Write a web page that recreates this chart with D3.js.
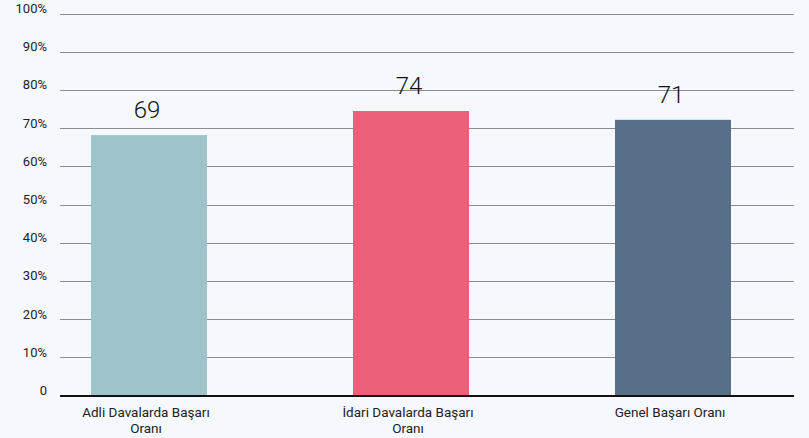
<!DOCTYPE html>
<html>
<head>
<meta charset="utf-8">
<script src="https://cdn.jsdelivr.net/npm/d3@7"></script>
<style>
  body { margin: 0; background: #f5f9fd; }
  svg { display: block; }
</style>
</head>
<body>
<svg id="chart" width="809" height="438"></svg>
<script>
// Categories (two-line labels)
var categories = ["Adli Davalarda Başarı Oranı", "İdari Davalarda Başarı Oranı", "Genel Başarı Oranı"];
var categoryLines = [["Adli Davalarda Başarı", "Oranı"], ["İdari Davalarda Başarı", "Oranı"], ["Genel Başarı Oranı"]];
// Bar heights as drawn (percent)
var values = [68.3, 74.6, 72.3];
// Printed value labels
var valueLabels = ["69", "74", "71"];
var colors = ["#9fc3cb", "#eb5f79", "#587087"];
// Y ticks
var yTicks = [0, 10, 20, 30, 40, 50, 60, 70, 80, 90, 100];

var svg = d3.select("#chart");
var W = 809, H = 438;
var m = { left: 60, right: 15, top: 14, bottom: 42 };

// Scales
var y = d3.scaleLinear().domain([0, 100]).range([H - m.bottom, m.top]);
var x = d3.scaleBand().domain(categories).range([18, 804]).padding(0);
var barW = 116;

// Background
svg.append("rect")
  .attr("width", W)
  .attr("height", H)
  .style("fill", "#f5f9fd");

// Grid lines
var grid = svg.append("g").attr("class", "grid");
grid.selectAll("line")
  .data(yTicks.filter(function(d) { return d > 0; }))
  .enter().append("line")
    .attr("x1", m.left)
    .attr("x2", W - m.right)
    .attr("y1", function(d) { return y(d); })
    .attr("y2", function(d) { return y(d); })
    .style("stroke", "#8c8c8c")
    .style("stroke-width", 1)
    .attr("shape-rendering", "crispEdges");

// Y tick labels
svg.append("g").selectAll("text")
  .data(yTicks)
  .enter().append("text")
    .attr("x", 47)
    .attr("y", function(d) { return y(d); })
    .attr("dy", -1)
    .style("text-anchor", "end")
    .style("font-family", "Roboto, sans-serif")
    .style("font-size", "13px")
    .style("fill", "#222")
    .text(function(d) { return d === 0 ? "0" : d + "%"; });

// Bars
svg.append("g").selectAll("rect")
  .data(values)
  .enter().append("rect")
    .attr("x", function(d, i) { return x(categories[i]) + x.bandwidth() / 2 - barW / 2; })
    .attr("y", function(d) { return y(d); })
    .attr("width", barW)
    .attr("height", function(d) { return y(0) - y(d); })
    .style("fill", function(d, i) { return colors[i]; });

// Value labels
svg.append("g").selectAll("text")
  .data(values)
  .enter().append("text")
    .attr("x", function(d, i) { return x(categories[i]) + x.bandwidth() / 2 - 2; })
    .attr("y", function(d) { return y(d) - 17; })
    .style("text-anchor", "middle")
    .style("font-family", "Roboto, sans-serif")
    .style("font-weight", 300)
    .style("font-size", "24px")
    .style("fill", "#111")
    .text(function(d, i) { return valueLabels[i]; });

// Baseline
svg.append("line")
  .attr("x1", m.left)
  .attr("x2", W - m.right)
  .attr("y1", y(0))
  .attr("y2", y(0))
  .style("stroke", "#111")
  .style("stroke-width", 2);

// Category labels
var cat = svg.append("g").selectAll("text")
  .data(categoryLines)
  .enter().append("text")
    .attr("x", function(d, i) { return x(categories[i]) + x.bandwidth() / 2 - 3; })
    .attr("y", y(0) + 21)
    .style("text-anchor", "middle")
    .style("font-family", "Roboto, sans-serif")
    .style("font-size", "13.5px")
    .style("fill", "#222");

cat.selectAll("tspan")
  .data(function(d) { return d; })
  .enter().append("tspan")
    .attr("x", function() { return d3.select(this.parentNode).attr("x"); })
    .attr("dy", function(d, i) { return i === 0 ? 0 : 16; })
    .text(function(d) { return d; });
</script>
</body>
</html>
